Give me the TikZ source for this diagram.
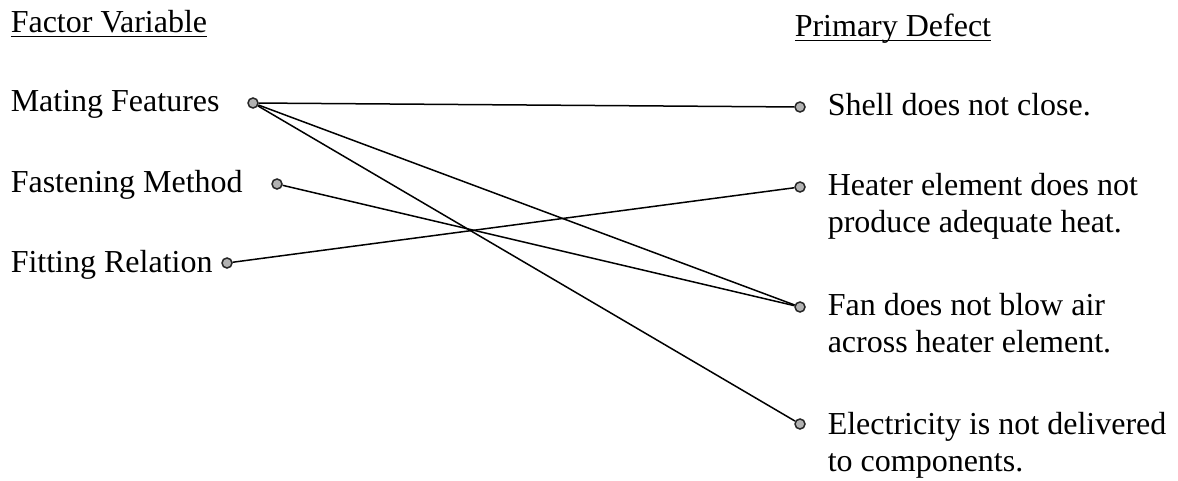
\documentclass[tikz,border=0pt]{standalone}
\usepackage{fontspec}
\setmainfont{Liberation Serif}
\newlength{\ulwd}
\newcommand{\ulabel}[1]{\settowidth{\ulwd}{#1}#1\hspace{-\ulwd}\rule[-2.2pt]{\ulwd}{0.6pt}}
\begin{document}
\begin{tikzpicture}[x=0.5pt, y=-0.5pt, line width=0.75pt,
		dot/.style={circle, draw=black!85, fill=gray!60, inner sep=0pt, minimum size=5pt},
		lbl/.style={anchor=base west, inner sep=0pt, align=left, font=\fontsize{16}{18.3}\selectfont}]
			\useasboundingbox (0,0) rectangle (1178,481);
			\node (fv) [lbl] at (10,32.5) {\ulabel{Factor Variable}};
			\node (pd) [lbl] at (794,36.5) {\ulabel{Primary Defect}};
			\node (mf) [lbl] at (10,112) {Mating Features};
			\node (fm) [lbl] at (10,192) {Fastening Method};
			\node (fr) [lbl] at (10,272) {Fitting Relation};
			\node (sh) [lbl] at (827,116) {Shell does not close.};
			\node (he) [lbl] at (827,232) {Heater element does not\\produce adequate heat.};
			\node (fa) [lbl] at (827,352) {Fan does not blow air\\across heater element.};
			\node (el) [lbl] at (827,471) {Electricity is not delivered\\to components.};
			\node (mfd) [dot] at (253,103) {};
			\node (fmd) [dot] at (277,184) {};
			\node (frd) [dot] at (227,263) {};
			\node (shd) [dot] at (800,107) {};
			\node (hed) [dot] at (800,187) {};
			\node (fad) [dot] at (800,307) {};
			\node (eld) [dot] at (800,424) {};
			\draw (mfd) -- (shd);
			\draw (mfd) -- (fad);
			\draw (mfd) -- (eld);
			\draw (fmd) -- (fad);
			\draw (frd) -- (hed);
		\end{tikzpicture}
\end{document}
